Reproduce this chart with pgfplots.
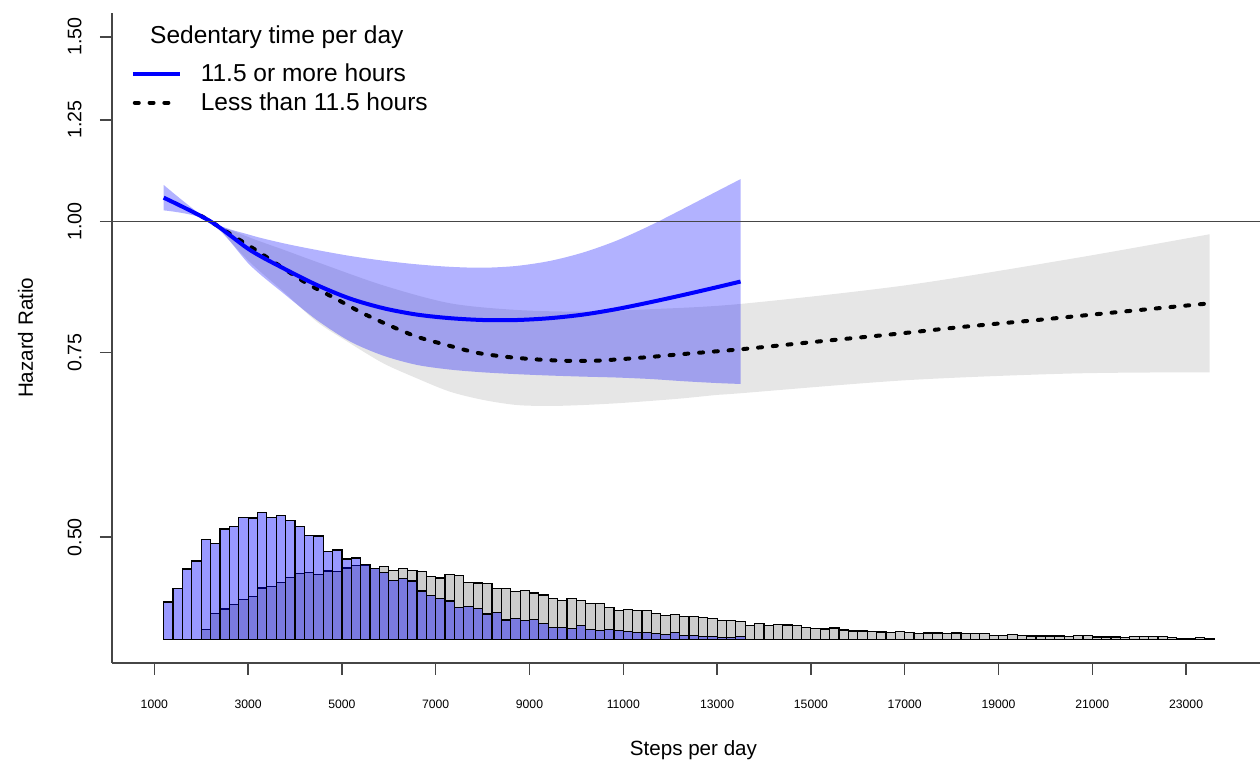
\documentclass[border=0pt]{standalone}
\usepackage{fontspec}
\setmainfont{Liberation Sans}
\usepackage{pgfplots}
\pgfplotsset{compat=1.18}
\usepgfplotslibrary{fillbetween}

\definecolor{axisgray}{RGB}{70,70,70}
\pgfplotsset{shortlegline/.style={legend image code/.code={\draw[##1] (1pt,0pt) -- (19pt,0pt);}}}

% Step-count histograms (bin left edge, bar height in plot units)
\pgfplotstableread{
x y
2000 9.7
2200 25.7
2400 30.3
2600 35
2800 39.7
3000 43
3200 51.3
3400 53
3600 56.7
3800 62
4000 65.7
4200 66.7
4400 65
4600 68.3
4800 67.7
5000 71.3
5200 73.6
5400 73.8
5600 70.8
5800 73
6000 68.6
6200 70.6
6400 68.6
6600 68
6800 62.6
7000 61.3
7200 65
7400 63.6
7600 56.6
7800 56.3
8000 55.6
8200 50.6
8400 50.6
8600 47.6
8800 49
9000 46.3
9200 44.3
9400 40.6
9600 39
9800 41
10000 39
10200 36
10400 36
10600 32
10800 29
11000 30
11200 29
11400 28.4
11600 25.7
11800 23.4
12000 25
12200 22.7
12400 22.4
12600 21.7
12800 21
13000 18.4
13200 19
13400 18
13600 14
13800 15.4
14000 13.4
14200 15
14400 14.2
14600 14
14800 12
15000 10.6
15200 10.3
15400 11.3
15600 9.3
15800 8.3
16000 8.3
16200 7.6
16400 7.3
16600 6.6
16800 8
17000 7
17200 6
17400 6.3
17600 6.3
17800 6
18000 6.3
18200 5.6
18400 5.6
18600 5.6
18800 3.6
19000 3.5
19200 5.1
19400 4
19600 3.3
19800 3.3
20000 3.3
20200 3.3
20400 2.6
20600 4
20800 4
21000 2.3
21200 2.3
21400 2.3
21600 1.6
21800 2.6
22000 2.6
22200 2.6
22400 3
22600 1.6
22800 1
23000 0.6
23200 2
23400 0.6
23600 0
}\histlow

\pgfplotstableread{
x y
1200 37.3
1400 50.6
1600 70.3
1800 78.3
2000 100
2200 96
2400 110.3
2600 112.7
2800 122
3000 121.3
3200 126.7
3400 121.7
3600 124
3800 119
4000 113
4200 104
4400 103.3
4600 87.7
4800 89.3
5000 80.3
5200 81.3
5400 75
5600 70.6
5800 67
6000 58.6
6200 61
6400 58.3
6600 48.3
6800 43.6
7000 40.6
7200 38.3
7400 32
7600 33
7800 31
8000 25.3
8200 26.6
8400 19.3
8600 21
8800 19
9000 19.6
9200 15.6
9400 12
9600 11.4
9800 10.7
10000 13.4
10200 10
10400 8.4
10600 9.4
10800 8.4
11000 7.4
11200 6.4
11400 6.4
11600 6
11800 4.4
12000 7
12200 4
12400 3.4
12600 2.7
12800 2.4
13000 2
13200 2
13400 2.4
13600 0
}\histhigh

\begin{document}
\begin{tikzpicture}
% ---- histograms of steps per day ----
\begin{axis}[
  scale only axis, width=574pt, height=325.15pt,
  xmin=98, xmax=24576, ymin=-23.7, ymax=626.6,
  hide axis,
]
\addplot[ybar interval, fill=gray, fill opacity=0.4, draw=black, line width=0.6pt] table {\histlow};
\addplot[ybar interval, fill=blue, fill opacity=0.4, draw=black, line width=0.6pt] table {\histhigh};
\end{axis}

% ---- hazard ratio curves ----
\begin{axis}[
  scale only axis, width=574pt, height=325.15pt,
  xmin=98, xmax=24576,
  ymode=log, ymin=0.3794, ymax=1.5815,
  axis lines=left,
  axis line style={-, draw=axisgray, line width=0.75pt},
  xtick={1000,3000,5000,7000,9000,11000,13000,15000,17000,19000,21000,23000},
  xticklabels={1000,3000,5000,7000,9000,11000,13000,15000,17000,19000,21000,23000},
  scaled x ticks=false,
  ytick={0.5,0.75,1,1.25,1.5},
  yticklabels={0.50,0.75,1.00,1.25,1.50},
  xminorticks=false, yminorticks=false,
  tick align=outside, major tick length=6pt,
  tick style={draw=axisgray, line width=0.75pt},
  xticklabel style={font=\fontsize{6.1}{7}\selectfont, anchor=north, inner sep=0pt},
  xticklabel shift=12.5pt,
  yticklabel style={font=\fontsize{9.8}{11}\selectfont, rotate=90, anchor=south, inner sep=0pt},
  yticklabel shift=9pt,
  xlabel={Steps per day},
  ylabel={Hazard Ratio},
  every axis x label/.style={at={(axis description cs:0.5065,-0.1415)}, anchor=base,
    font=\fontsize{10.3}{12}\selectfont, inner sep=0pt},
  every axis y label/.style={at={(axis description cs:-0.06882,0.5)}, rotate=90, anchor=base,
    font=\fontsize{10.3}{12}\selectfont, inner sep=0pt},
  legend style={at={(axis description cs:0.0160,0.9223)}, anchor=north west,
    draw=none, fill=none, inner sep=0pt, row sep=4pt, column sep=9.5pt,
    nodes={inner sep=0pt}, font=\fontsize{12.25}{14.85}\selectfont},
  legend cell align=left,
  legend image code/.code={\draw[#1] (0pt,0pt) -- (23.5pt,0pt);},
]
\addlegendimage{blue, line width=2pt}
\addlegendentry{11.5 or more hours}
\addlegendimage{black, line width=2pt, line cap=round, dash pattern=on 2pt off 5.4pt, shortlegline}
\addlegendentry{Less than 11.5 hours}

% less than 11.5 h: confidence band
\addplot[name path=gu, draw=none, smooth, forget plot] coordinates {
(2000,1.018) (2200,1.0) (3040,0.9650) (3750,0.9400) (4463,0.9150) (5883,0.8690)
(7305,0.8356) (8727,0.8234) (10147,0.8204) (11569,0.8247) (13490,0.8343)
(17043,0.8695) (20595,0.9220) (23500,0.9723)};
\addplot[name path=gl, draw=none, smooth, forget plot] coordinates {
(2000,1.005) (2200,1.0) (3040,0.9144) (3750,0.8575) (4463,0.8025) (5173,0.7654)
(5883,0.7325) (6595,0.7088) (7305,0.6882) (8015,0.6758) (8727,0.6684) (9437,0.6669)
(10147,0.6684) (10859,0.6709) (11569,0.6743) (12279,0.6783) (12991,0.6833)
(13490,0.6858) (17043,0.7058) (20595,0.7163) (23500,0.7182)};
\addplot[fill=gray, fill opacity=0.2, draw=none, forget plot] fill between[of=gu and gl];

% less than 11.5 h: estimate
\addplot[black, line width=2pt, line cap=round, dash pattern=on 2pt off 5.4pt, smooth, forget plot] coordinates {
(2000,1.012) (2200,1.0) (2684,0.9687) (3217,0.9359) (3750,0.9024) (4284,0.8712)
(4853,0.8448) (5422,0.8185) (5989,0.7968) (6595,0.7766) (7235,0.7625) (7874,0.7497)
(8478,0.7432) (9117,0.7389) (9757,0.7366) (10397,0.7366) (11000,0.7394)
(11640,0.7432) (12279,0.7475) (13559,0.7558) (15124,0.7681) (16723,0.7806)
(18286,0.7938) (19849,0.8056) (21414,0.8185) (23297,0.8338) (23500,0.8354)};

% 11.5 h or more: confidence band
\addplot[name path=bu, draw=none, smooth, forget plot] coordinates {
(1200,1.0834) (2200,1.0) (3040,0.9708) (3750,0.9533) (4463,0.9393) (5173,0.9271)
(5883,0.9175) (6595,0.9102) (7305,0.9052) (8015,0.9034) (8727,0.9070) (9437,0.9170)
(10147,0.9342) (10859,0.9588) (11569,0.9909) (12279,1.0283) (12991,1.0681) (13500,1.0973)};
\addplot[name path=bl, draw=none, smooth, forget plot] coordinates {
(1200,1.0246) (2200,1.0) (3040,0.9086) (3750,0.8543) (4463,0.8056) (5173,0.7686)
(5883,0.7448) (6595,0.7300) (7305,0.7224) (8015,0.7181) (8727,0.7152) (9437,0.7130)
(10147,0.7113) (10859,0.7099) (11569,0.7077) (12279,0.7042) (12991,0.7014) (13500,0.7000)};
\addplot[fill=blue, fill opacity=0.3, draw=none, forget plot] fill between[of=bu and bl];

% 11.5 h or more: estimate
\addplot[blue, line width=2pt, smooth, forget plot] coordinates {
(1200,1.0536) (2200,1.0) (3040,0.9393) (3750,0.9024) (4463,0.8699) (5173,0.8442)
(5883,0.8266) (6595,0.8151) (7305,0.8087) (8015,0.8054) (8727,0.8054) (9437,0.8087)
(10147,0.8151) (10859,0.8250) (11569,0.8374) (12279,0.8510) (12991,0.8655) (13500,0.8764)};

% reference line at HR = 1
\addplot[axisgray, line width=0.75pt, forget plot] coordinates {(98,1) (24576,1)};

\node[anchor=base, font=\fontsize{12.25}{14.85}\selectfont]
  at (axis description cs:0.1436,0.9529) {Sedentary time per day};
\end{axis}

\pgfresetboundingbox
\path[use as bounding box] (-56pt,-50pt) rectangle (574pt,331.5pt);
\end{tikzpicture}
\end{document}
